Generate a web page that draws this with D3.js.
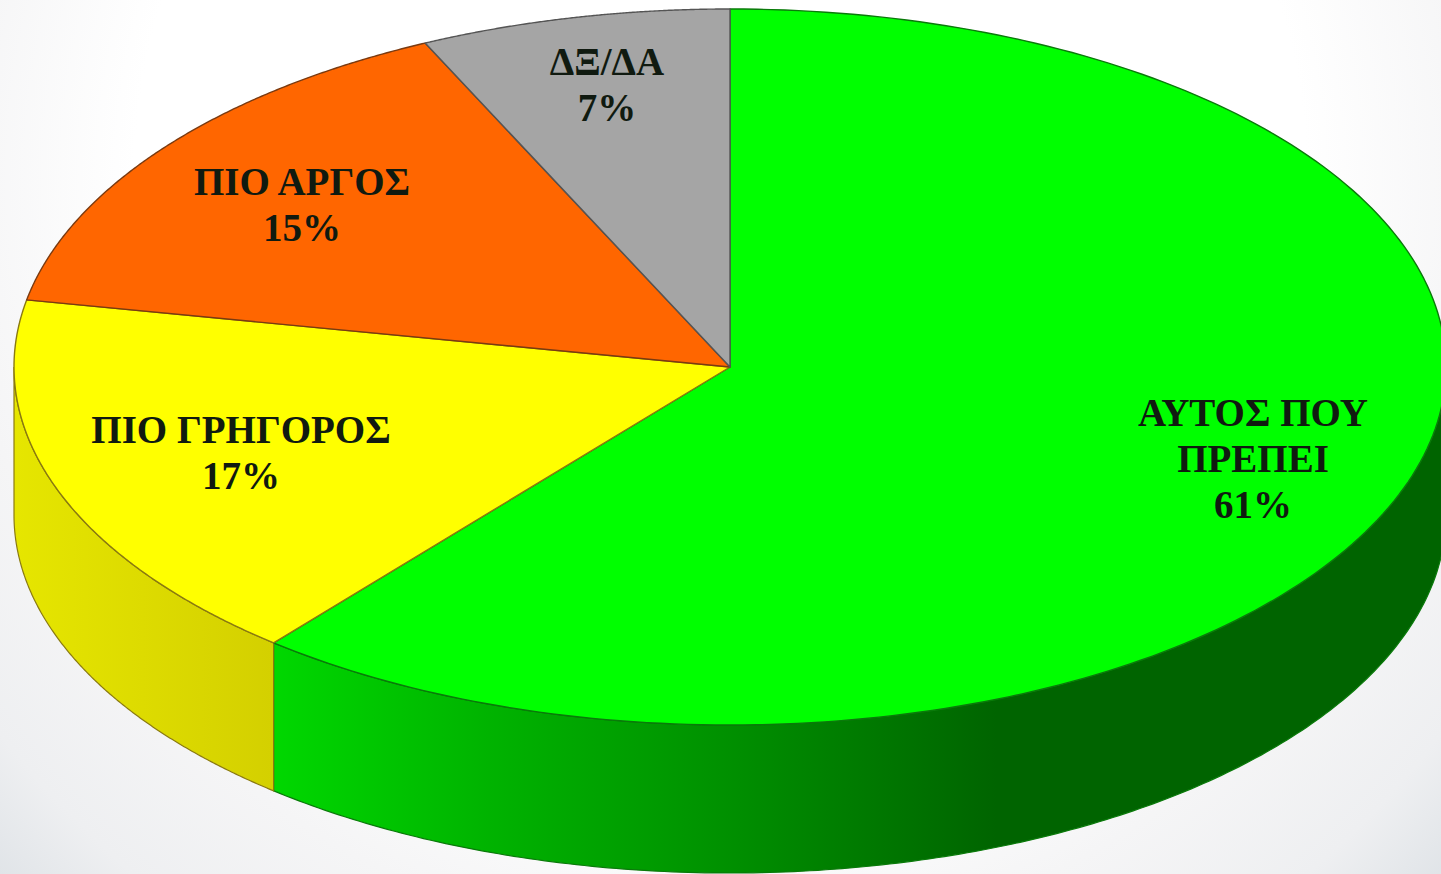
<!DOCTYPE html>
<html><head><meta charset="utf-8">
<script src="https://d3js.org/d3.v7.min.js"></script>
<style>html,body{margin:0;padding:0;overflow:hidden;background:#fff}svg{display:block}</style>
</head><body><svg id="c" width="1441" height="874"></svg>
<script>
const categories = ["ΑΥΤΟΣ ΠΟΥ ΠΡΕΠΕΙ","ΠΙΟ ΓΡΗΓΟΡΟΣ","ΠΙΟ ΑΡΓΟΣ","ΔΞ/ΔΑ"];
const values = [61,17,15,7];
const topColors = ["#00ff00","#ffff00","#ff6600","#a5a5a5"];
const labelLines = [["ΑΥΤΟΣ ΠΟΥ","ΠΡΕΠΕΙ","61%"],["ΠΙΟ ΓΡΗΓΟΡΟΣ","17%"],["ΠΙΟ ΑΡΓΟΣ","15%"],["ΔΞ/ΔΑ","7%"]];
const labelAnchors = [[1253,413],[241,430],[302,182],[607,62]];

const W=1441,H=874, cx=730, cy=367, rx=716, ry=358, depth=148;
const svg=d3.select("#c");
const defs=svg.append("defs");

const bg=defs.append("radialGradient").attr("id","bg").attr("gradientUnits","userSpaceOnUse")
 .attr("cx",W/2).attr("cy",180).attr("r",1010);
[[0,"#ffffff"],[0.58,"#ffffff"],[0.76,"#f5f5f6"],[0.9,"#eeeff1"],[1,"#dfe3e7"]].forEach(s=>bg.append("stop").attr("offset",s[0]).attr("stop-color",s[1]));
svg.append("rect").attr("width",W).attr("height",H).attr("fill","url(#bg)");

const gy=defs.append("linearGradient").attr("id","side1").attr("gradientUnits","userSpaceOnUse")
 .attr("x1",14).attr("x2",272).attr("y1",0).attr("y2",0);
[[0,"#e6e600"],[1,"#d4d000"]].forEach(s=>gy.append("stop").attr("offset",s[0]).attr("stop-color",s[1]));
const gg=defs.append("linearGradient").attr("id","side0").attr("gradientUnits","userSpaceOnUse")
 .attr("x1",272).attr("x2",1441).attr("y1",0).attr("y2",0);
[[0,"#00d800"],[0.18,"#00b400"],[0.39,"#009000"],[0.62,"#006400"],[1,"#006400"]].forEach(s=>gg.append("stop").attr("offset",s[0]).attr("stop-color",s[1]));

const pie=d3.pie().sort(null).value(d=>d);
const arcs=pie(values);
const px=d3.scaleLinear().domain([-1,1]).range([cx-rx,cx+rx]);
const py=d3.scaleLinear().domain([-1,1]).range([cy-ry,cy+ry]);
const pt=a=>[px(Math.sin(a)),py(-Math.cos(a))];
const ell=(a0,a1)=>d3.range(0,201).map(i=>pt(a0+(a1-a0)*i/200));

const stroke=["#0a7a0a","#8a7a10","#7a3a10","#555"];
arcs.forEach((d,i)=>{
  const a0=Math.max(d.startAngle,Math.PI/2), a1=Math.min(d.endAngle,1.5*Math.PI);
  if(a1<=a0) return;
  const top=ell(a0,a1), bot=top.map(p=>[p[0],p[1]+depth]).reverse();
  svg.append("path").attr("d",d3.line()(top.concat(bot))+"Z")
    .attr("fill",`url(#side${i})`).attr("stroke",stroke[i]).attr("stroke-width",1.2);
});
arcs.forEach((d,i)=>{
  const p=[[cx,cy]].concat(ell(d.startAngle,d.endAngle));
  svg.append("path").attr("d",d3.line()(p)+"Z").attr("fill",topColors[i])
    .attr("stroke",stroke[i]).attr("stroke-width",1.4).attr("stroke-linejoin","round");
});
labelLines.forEach((lines,i)=>{
  const t=svg.append("text").attr("text-anchor","middle")
    .attr("font-family","'Liberation Serif',serif").attr("font-weight","bold")
    .attr("font-size",39).attr("fill","#101a10");
  lines.forEach((s,k)=>t.append("tspan").attr("x",labelAnchors[i][0])
    .attr("y",labelAnchors[i][1]+k*46+13).text(s));
});
</script></body></html>
